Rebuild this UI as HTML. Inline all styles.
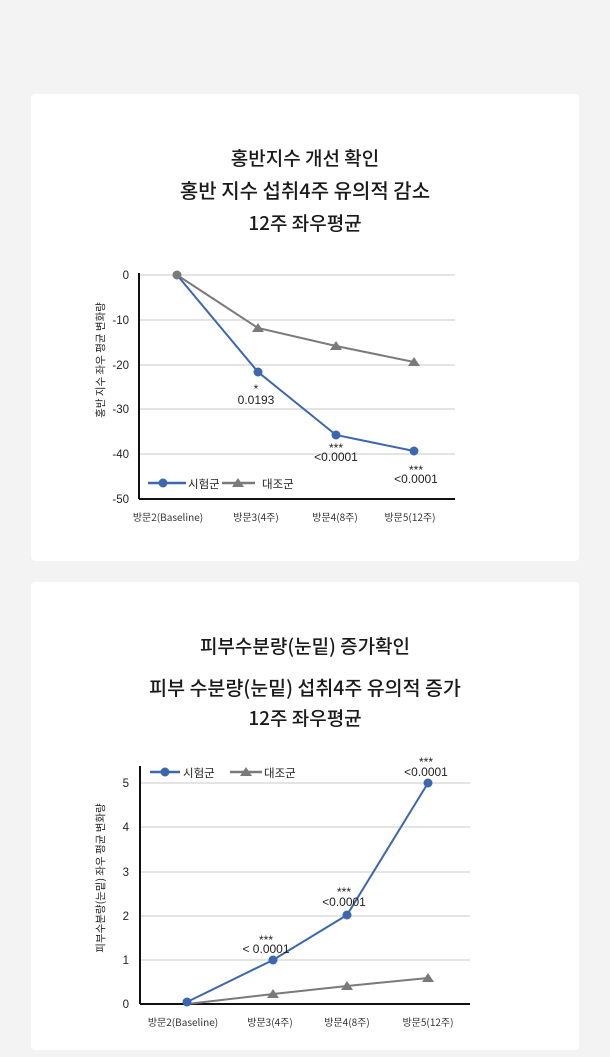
<!DOCTYPE html>
<html><head><meta charset="utf-8"><style>
html,body{margin:0;padding:0;background:#f3f3f3;}
svg{display:block;font-family:"Liberation Sans","Noto Sans CJK KR",sans-serif;}
</style></head><body>
<svg width="610" height="1057" viewBox="0 0 610 1057" xmlns="http://www.w3.org/2000/svg">
<rect x="0" y="0" width="610" height="1057" fill="#f3f3f3"/>
<rect x="31" y="94" width="548" height="467" rx="4" fill="#fff"/>
<rect x="31" y="582" width="548" height="468" rx="4" fill="#fff"/>
<g font-family="'Noto Sans CJK KR',sans-serif" font-size="19" font-weight="500" fill="#1a1a1a" text-anchor="middle">
<text x="305" y="165">홍반지수 개선 확인</text>
<text x="305" y="198" font-size="20">홍반 지수 섭취4주 유의적 감소</text>
<text x="305" y="230">12주 좌우평균</text>
<text x="305" y="653">피부수분량(눈밑) 증가확인</text>
<text x="305" y="695" font-size="19.5">피부 수분량(눈밑) 섭취4주 유의적 증가</text>
<text x="305" y="725">12주 좌우평균</text>
</g>
<!-- chart 1 -->
<g stroke="#c8c8c8" stroke-width="1">
<line x1="139" y1="275" x2="455" y2="275"/><line x1="139" y1="320" x2="455" y2="320"/>
<line x1="139" y1="365" x2="455" y2="365"/><line x1="139" y1="409" x2="455" y2="409"/>
<line x1="139" y1="454" x2="455" y2="454"/>
</g>
<line x1="139" y1="273" x2="139" y2="499" stroke="#111" stroke-width="2"/>
<line x1="139" y1="499" x2="455" y2="499" stroke="#111" stroke-width="2"/>
<g font-size="11.5" fill="#222" text-anchor="end">
<text x="129" y="279">0</text><text x="129" y="324">-10</text><text x="129" y="369">-20</text>
<text x="129" y="413">-30</text><text x="129" y="458">-40</text><text x="129" y="503">-50</text>
</g>
<text transform="translate(104,360) rotate(-90)" font-size="10.5" fill="#222" text-anchor="middle" font-family="'Noto Sans CJK KR',sans-serif">홍반  지수 좌우 평균 변화량</text>
<g font-size="10" fill="#333" text-anchor="middle" font-family="'Noto Sans CJK KR',sans-serif">
<text x="168" y="521">방문2(Baseline)</text><text x="256" y="521">방문3(4주)</text>
<text x="335" y="521">방문4(8주)</text><text x="410" y="521">방문5(12주)</text>
</g>
<polyline points="177,275 258,328 336,346 414,362" fill="none" stroke="#7a7a7a" stroke-width="2"/>
<g fill="#7a7a7a"><polygon points="258,323 264,332 252,332"/><polygon points="336,341 342,350 330,350"/><polygon points="414,357 420,366 408,366"/></g>
<polyline points="177,275 258,372 336,435 414,451" fill="none" stroke="#3c67ad" stroke-width="2"/>
<g fill="#3c67ad"><circle cx="258" cy="372" r="4.5"/><circle cx="336" cy="435" r="4.5"/><circle cx="414" cy="451" r="4.5"/></g>
<circle cx="177" cy="275" r="4.5" fill="#7a7a7a"/>
<g font-size="12" fill="#222" text-anchor="middle">
<text x="256" y="393">*</text><text x="256" y="404">0.0193</text>
<text x="336" y="452">***</text><text x="336" y="461">&lt;0.0001</text>
<text x="416" y="474">***</text><text x="416" y="483">&lt;0.0001</text>
</g>
<line x1="148" y1="483" x2="186" y2="483" stroke="#3c67ad" stroke-width="2.5"/><circle cx="163" cy="483" r="4.5" fill="#3c67ad"/>
<line x1="222" y1="483" x2="255" y2="483" stroke="#7a7a7a" stroke-width="2.5"/><polygon points="238,478 244,487 232,487" fill="#7a7a7a"/>
<g font-size="11.5" fill="#222" font-family="'Noto Sans CJK KR',sans-serif"><text x="188" y="488">시험군</text><text x="262" y="488">대조군</text></g>
<!-- chart 2 -->
<g stroke="#c8c8c8" stroke-width="1">
<line x1="140" y1="783" x2="470" y2="783"/><line x1="140" y1="827" x2="470" y2="827"/>
<line x1="140" y1="872" x2="470" y2="872"/><line x1="140" y1="916" x2="470" y2="916"/>
<line x1="140" y1="960" x2="470" y2="960"/>
</g>
<line x1="140" y1="766" x2="140" y2="1004" stroke="#111" stroke-width="2"/>
<line x1="140" y1="1004" x2="470" y2="1004" stroke="#111" stroke-width="2"/>
<g font-size="11.5" fill="#222" text-anchor="end">
<text x="129" y="1008">0</text><text x="129" y="964">1</text><text x="129" y="920">2</text>
<text x="129" y="876">3</text><text x="129" y="831">4</text><text x="129" y="787">5</text>
</g>
<text transform="translate(104,878) rotate(-90)" font-size="10.5" fill="#222" text-anchor="middle" font-family="'Noto Sans CJK KR',sans-serif">피부수분량(눈밑) 좌우 평균 변화량</text>
<g font-size="10" fill="#333" text-anchor="middle" font-family="'Noto Sans CJK KR',sans-serif">
<text x="183" y="1026">방문2(Baseline)</text><text x="270" y="1026">방문3(4주)</text>
<text x="347" y="1026">방문4(8주)</text><text x="428" y="1026">방문5(12주)</text>
</g>
<polyline points="187,1004 273,994 347,986 428,978" fill="none" stroke="#7a7a7a" stroke-width="2"/>
<g fill="#7a7a7a"><polygon points="273,989 279,998 267,998"/><polygon points="347,981 353,990 341,990"/><polygon points="428,973 434,982 422,982"/></g>
<polyline points="187,1002 273,960 347,915 428,783" fill="none" stroke="#3c67ad" stroke-width="2"/>
<g fill="#3c67ad"><circle cx="187" cy="1002" r="4.5"/><circle cx="273" cy="960" r="4.5"/><circle cx="347" cy="915" r="4.5"/><circle cx="428" cy="783" r="4.5"/></g>
<g font-size="12" fill="#222" text-anchor="middle">
<text x="266" y="944">***</text><text x="266" y="953">&lt; 0.0001</text>
<text x="344" y="896">***</text><text x="344" y="906">&lt;0.0001</text>
<text x="426" y="766">***</text><text x="426" y="776">&lt;0.0001</text>
</g>
<line x1="150" y1="772" x2="180" y2="772" stroke="#3c67ad" stroke-width="2.5"/><circle cx="165" cy="772" r="4.5" fill="#3c67ad"/>
<line x1="230" y1="772" x2="262" y2="772" stroke="#7a7a7a" stroke-width="2.5"/><polygon points="246,767 252,776 240,776" fill="#7a7a7a"/>
<g font-size="11.5" fill="#222" font-family="'Noto Sans CJK KR',sans-serif"><text x="183" y="777">시험군</text><text x="264" y="777">대조군</text></g>
</svg>
</body></html>
